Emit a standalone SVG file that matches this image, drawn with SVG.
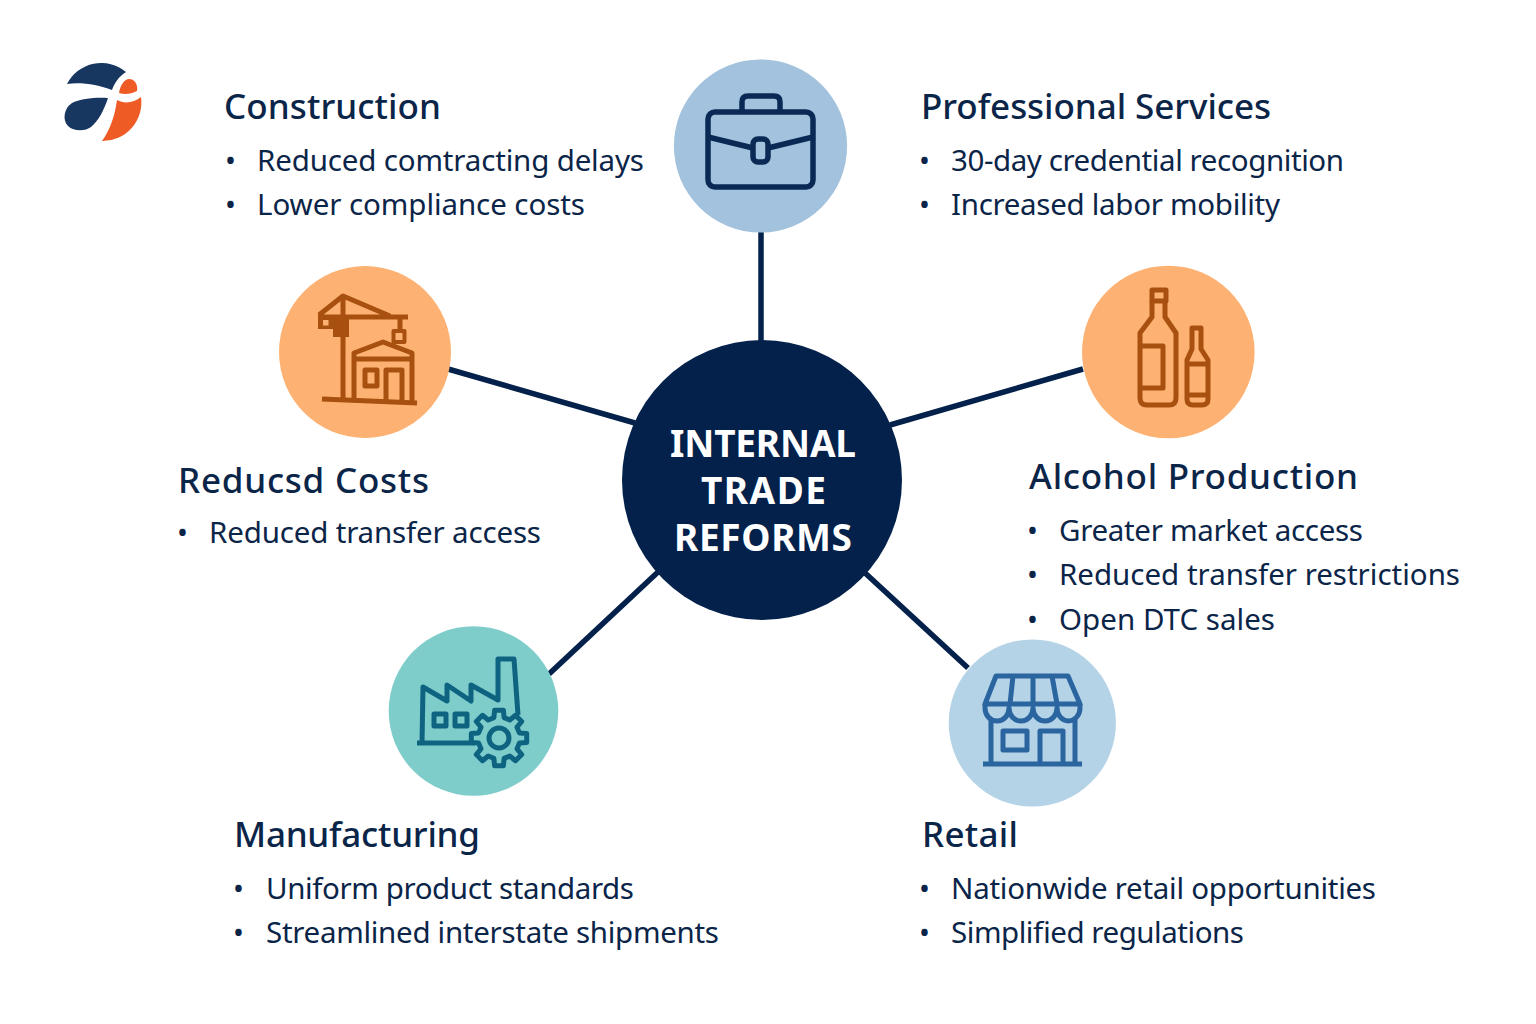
<svg xmlns="http://www.w3.org/2000/svg" width="1536" height="1024" viewBox="0 0 1536 1024">
<style>
text{font-family:"Noto Sans","Open Sans","Liberation Sans",sans-serif;fill:#0b2549}
.h{font-size:35px;font-weight:500}
.b{font-size:29.500px}
.d{font-size:29px}
.c{font-size:37px;font-weight:700;fill:#fff}
.i{fill:none;stroke-width:5;stroke-linejoin:round;stroke-linecap:butt}
.con{stroke:#03214a;stroke-width:5.500;fill:none}
</style>
<rect width="1536" height="1024" fill="#fff"/>
<g id="logo">
<path d="M67,84A38.500,38.500 0 0 1 126,72C119,76 114,84 112,90C98,85 82,82 67,84Z" fill="#173660"/>
<path d="M108,98C100,97 80,98 72,103C64,108 62,120 68,126C74,132 86,131 91,127C99,120 104,110 108,98Z" fill="#173660"/>
<path d="M119,93C120,85 125,79 129,79C135,79 138,85 137,91C131,94 125,95 119,93Z" fill="#ef5b25"/>
<path d="M117,100C124,104 134,103 141,97A38.500,38.500 0 0 1 102,141C110,130 115,115 117,100Z" fill="#ef5b25"/>
</g>
<g id="connectors" class="con">
<line x1="761" y1="232" x2="761" y2="345"/>
<line x1="448" y1="369" x2="635" y2="423"/>
<line x1="1083" y1="369" x2="890" y2="425"/>
<line x1="549" y1="674" x2="658" y2="572"/>
<line x1="968" y1="668" x2="864" y2="572"/>
</g>
<g id="center">
<circle cx="762" cy="480" r="140" fill="#03214a"/>
<text class="c" x="670" y="457" textLength="186">INTERNAL</text>
<text class="c" x="701" y="504" textLength="125">TRADE</text>
<text class="c" x="674" y="551" textLength="178">REFORMS</text>
</g>
<g id="professional-icon">
<circle cx="760.500" cy="146" r="86.600" fill="#a3c2dd"/>
<g class="i" stroke="#0a2a55" style="stroke-width:5.500">
<rect x="708" y="112" width="105" height="75" rx="7"/>
<path d="M742,110V102Q742,96 748,96H774Q780,96 780,102V110"/>
<path d="M708,137L753,148M768,148L813,137"/>
<rect x="753" y="139" width="15" height="23" rx="5"/>
</g>
</g>
<g id="construction-icon">
<circle cx="365" cy="352" r="86" fill="#fdb273"/>
<g class="i" stroke="#a8500f">
<path d="M343,399V296M319,315L343,296L390,316M408,317H318"/>
<path d="M400,317V331"/>
<rect x="393.500" y="331" width="11" height="11" stroke-width="4"/>
<path d="M322,399L417,403"/>
<path d="M354,400V353L383,342L412,353V401M354,359H412"/>
<rect x="365" y="370" width="12" height="16"/>
<path d="M386,401V370H402V401"/>
</g>
<path d="M318,316H349V337H333V329H318Z" fill="#a8500f"/>
<rect x="323" y="320" width="5.500" height="5.500" fill="#fdb273"/>
</g>
<g id="alcohol-icon">
<circle cx="1168.300" cy="352" r="86.300" fill="#fdb273"/>
<g class="i" stroke="#a8500f">
<rect x="1152" y="290" width="14" height="11"/>
<path d="M1152,301V317L1140,333V398Q1140,405 1147,405H1169Q1176,405 1176,398V333L1165,317V301"/>
<path d="M1140,346H1163V388H1140"/>
<path d="M1192,349V328H1201V349L1208,360V399Q1208,405 1202,405H1193Q1187,405 1187,399V360ZM1187,364H1208M1187,395H1208"/>
</g>
</g>
<g id="manufacturing-icon">
<circle cx="473.500" cy="711" r="84.800" fill="#7fcdcb"/>
<g class="i" stroke="#0e6480">
<path d="M417,743H475M422,743L423,687L447,701V685L471,701V685L498,700V659H514L518,715"/>
<rect x="434" y="714" width="12" height="12"/>
<rect x="455" y="714" width="12" height="12"/>
<path fill="#7fcdcb" transform="translate(499,738)" d="M20.400,-5.100L27.700,-4.400V4.400L20.400,5.100L18,10.800L22.700,16.500L16.500,22.700L10.800,18L5.100,20.400L4.400,27.700H-4.400L-5.100,20.400L-10.800,18L-16.500,22.700L-22.700,16.500L-18,10.800L-20.400,5.100L-27.700,4.400V-4.400L-20.400,-5.100L-18,-10.800L-22.700,-16.500L-16.500,-22.700L-10.800,-18L-5.100,-20.400L-4.400,-27.700H4.400L5.100,-20.400L10.800,-18L16.500,-22.700L22.700,-16.500L18,-10.800Z"/>
<circle cx="499" cy="738" r="10"/>
</g>
</g>
<g id="retail-icon">
<circle cx="1032.300" cy="723" r="83.600" fill="#b5d3e7"/>
<g class="i" stroke="#2a65a0">
<path d="M996,676H1068L1080,704H985ZM1013,676L1010,704M1033,676V704M1052,676L1057,704"/>
<path d="M985,704V708A11.900,13 0 0 0 1009,708A12,13 0 0 0 1033,708A12,13 0 0 0 1057,708A11.500,13 0 0 0 1080,708V704"/>
<path d="M991,720V763M1075,720V763"/>
<rect x="1003" y="731" width="24" height="19"/>
<path d="M1040,763V731H1063V763"/>
<path d="M983,764H1082"/>
</g>
</g>
<g id="construction">
<text class="h" x="224" y="119" textLength="217">Construction</text>
<text class="d" x="225" y="171">•</text><text class="b" x="257" y="171" textLength="387">Reduced comtracting delays</text>
<text class="d" x="225" y="215">•</text><text class="b" x="257" y="215" textLength="328">Lower compliance costs</text>
</g>
<g id="professional">
<text class="h" x="921" y="119" textLength="350">Professional Services</text>
<text class="d" x="919" y="171">•</text><text class="b" x="951" y="171" textLength="393">30-day credential recognition</text>
<text class="d" x="919" y="215">•</text><text class="b" x="951" y="215" textLength="329">Increased labor mobility</text>
</g>
<g id="costs">
<text class="h" x="178" y="493" textLength="251">Reducsd Costs</text>
<text class="d" x="177" y="543">•</text><text class="b" x="209" y="543" textLength="332">Reduced transfer access</text>
</g>
<g id="alcohol">
<text class="h" x="1029" y="489" textLength="329">Alcohol Production</text>
<text class="d" x="1027" y="541">•</text><text class="b" x="1059" y="541" textLength="304">Greater market access</text>
<text class="d" x="1027" y="585">•</text><text class="b" x="1059" y="585" textLength="401">Reduced transfer restrictions</text>
<text class="d" x="1027" y="630">•</text><text class="b" x="1059" y="630" textLength="216">Open DTC sales</text>
</g>
<g id="manufacturing">
<text class="h" x="234" y="847" textLength="246">Manufacturing</text>
<text class="d" x="233" y="899">•</text><text class="b" x="266" y="899" textLength="368">Uniform product standards</text>
<text class="d" x="233" y="943">•</text><text class="b" x="266" y="943" textLength="453">Streamlined interstate shipments</text>
</g>
<g id="retail">
<text class="h" x="922" y="847" textLength="96">Retail</text>
<text class="d" x="919" y="899">•</text><text class="b" x="951" y="899" textLength="425">Nationwide retail opportunities</text>
<text class="d" x="919" y="943">•</text><text class="b" x="951" y="943" textLength="293">Simplified regulations</text>
</g>
</svg>
